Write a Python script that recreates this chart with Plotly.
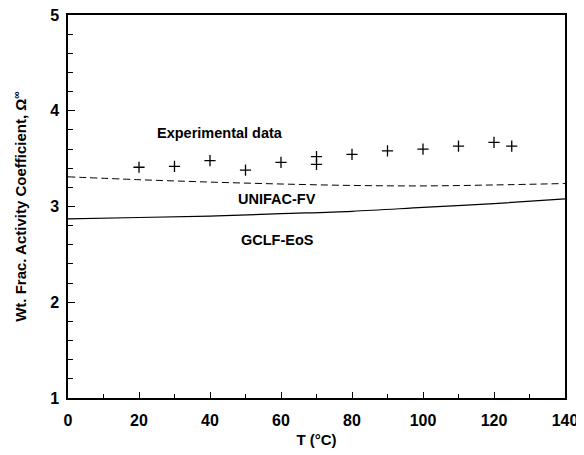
import plotly.graph_objects as go

exp_T = [20, 30, 40, 50, 60, 70, 70, 80, 90, 100, 110, 120, 125]
exp_omega = [3.41, 3.42, 3.48, 3.38, 3.46, 3.52, 3.44, 3.545, 3.58, 3.60, 3.63, 3.67, 3.63]

model_T = [0, 20, 40, 60, 80, 100, 120, 140]
unifac_fv = [3.31, 3.28, 3.255, 3.235, 3.22, 3.215, 3.225, 3.24]
gclf_eos = [2.87, 2.885, 2.90, 2.925, 2.95, 2.99, 3.03, 3.08]

x_ticks = [0, 20, 40, 60, 80, 100, 120, 140]
y_ticks = [1, 2, 3, 4, 5]

font = "Liberation Sans, Arial, sans-serif"

fig = go.Figure()
fig.add_trace(go.Scatter(x=model_T, y=unifac_fv, mode="lines", line=dict(color="black", width=1, dash="7px,4px"),
                         line_shape="spline", name="UNIFAC-FV"))
fig.add_trace(go.Scatter(x=model_T, y=gclf_eos, mode="lines", line=dict(color="black", width=1.2),
                         line_shape="spline", name="GCLF-EoS"))
fig.add_trace(go.Scatter(x=exp_T, y=exp_omega, mode="markers",
                         marker=dict(symbol="cross-thin", size=8, color="black", line=dict(color="black", width=1.3)),
                         name="Experimental data"))

ann = [
    ("<b>Experimental data</b>", 42.8, 3.77),
    ("<b>UNIFAC-FV</b>", 59, 3.08),
    ("<b>GCLF-EoS</b>", 59, 2.65),
]
for t, x, y in ann:
    fig.add_annotation(x=x, y=y, text=t, showarrow=False, font=dict(family=font, size=14.5, color="black"))

fig.update_layout(
    width=584, height=455,
    margin=dict(l=60, r=27, t=7, b=65),
    paper_bgcolor="white", plot_bgcolor="white",
    showlegend=False,
    font=dict(family=font, color="black"),
    xaxis=dict(range=[0, 140], tickvals=x_ticks, ticktext=[f"<b>{v}</b>" for v in x_ticks],
               ticks="inside", ticklen=6, tickcolor="black", tickwidth=1,
               minor=dict(dtick=10, ticks="inside", ticklen=4, tickcolor="black"),
               showline=True, linecolor="black", linewidth=1.5, mirror=True, showgrid=False, zeroline=False,
               tickfont=dict(size=16, family=font), automargin=False, ticklabelstandoff=7,
               ticklabeloverflow="allow",
               title=dict(text="<b>T (°C)</b>", font=dict(size=15, family=font), standoff=7)),
    yaxis=dict(range=[1, 5], tickvals=y_ticks, ticktext=[f"<b>{v}</b>" for v in y_ticks],
               ticks="inside", ticklen=7, tickcolor="black", tickwidth=1,
               minor=dict(dtick=0.2, ticks="inside", ticklen=5, tickcolor="black"),
               showline=True, linecolor="black", linewidth=1.5, mirror=True, showgrid=False, zeroline=False,
               tickfont=dict(size=16, family=font), automargin=False, ticklabelstandoff=4,
               ticklabeloverflow="allow",
               title=dict(text="<b>Wt. Frac. Activity Coefficient, Ω<sup>∞</sup></b>", font=dict(size=15, family=font), standoff=20)),
)

fig.write_html("out.html")
